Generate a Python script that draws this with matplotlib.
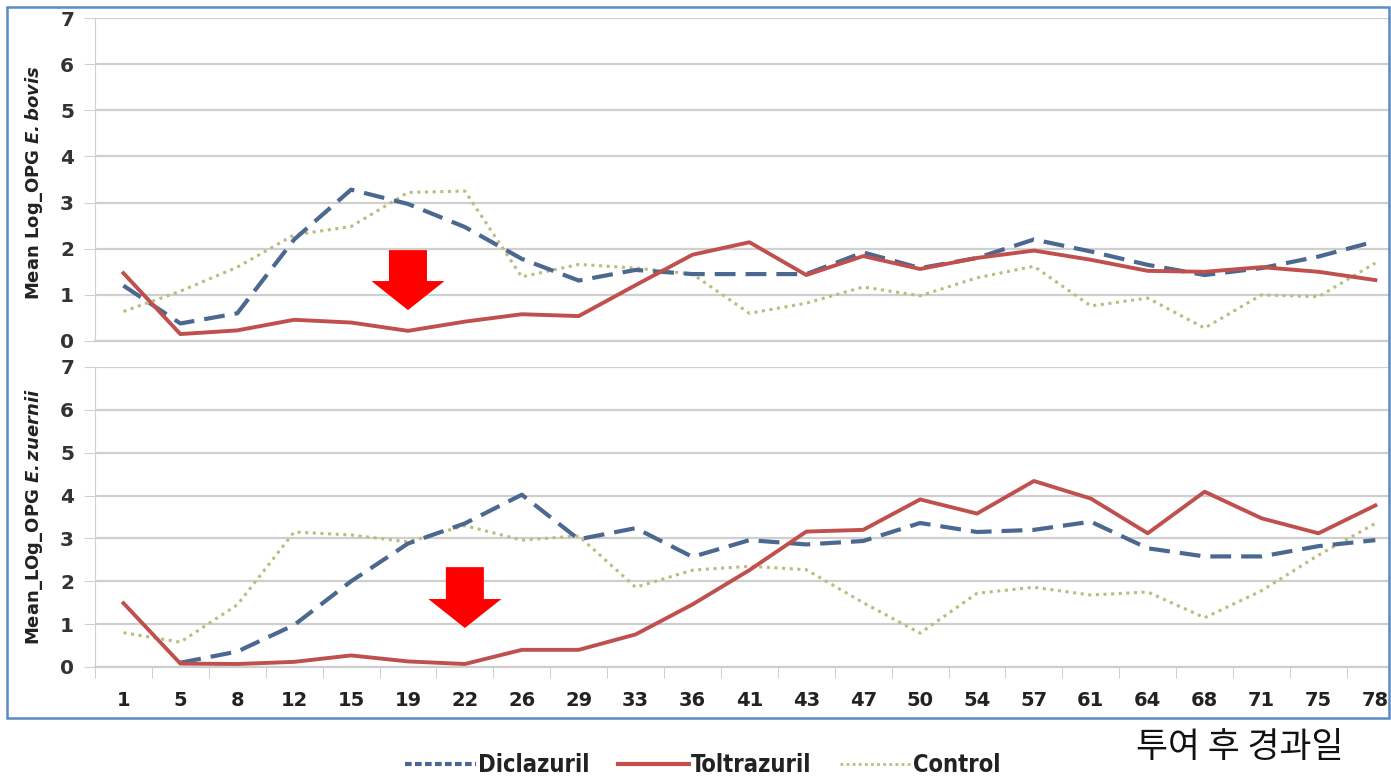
import numpy as np
import matplotlib.pyplot as plt
from matplotlib.patches import Rectangle, FancyArrow
from matplotlib.lines import Line2D
from matplotlib import font_manager

days = ['1', '5', '8', '12', '15', '19', '22', '26', '29', '33', '36', '41',
        '43', '47', '50', '54', '57', '61', '64', '68', '71', '75', '78']

# E. bovis
bovis_diclazuril = [1.2, 0.38, 0.6, 2.2, 3.28, 2.97, 2.47, 1.78, 1.31, 1.54, 1.45, 1.45,
                    1.45, 1.92, 1.58, 1.8, 2.2, 1.94, 1.65, 1.43, 1.58, 1.83, 2.16]
bovis_toltrazuril = [1.47, 0.15, 0.23, 0.46, 0.4, 0.22, 0.42, 0.58, 0.54, 1.21, 1.87, 2.14,
                     1.43, 1.84, 1.56, 1.8, 1.96, 1.76, 1.52, 1.5, 1.6, 1.5, 1.32]
bovis_control = [0.64, 1.08, 1.6, 2.3, 2.48, 3.22, 3.25, 1.39, 1.66, 1.58, 1.45, 0.6,
                 0.82, 1.17, 0.98, 1.37, 1.62, 0.76, 0.93, 0.28, 1.0, 0.96, 1.69]

# E. zuernii
zuernii_diclazuril = [None, 0.1, 0.36, 0.98, 2.0, 2.88, 3.35, 4.02, 2.98, 3.24, 2.57, 2.96,
                      2.86, 2.94, 3.36, 3.15, 3.2, 3.39, 2.77, 2.58, 2.58, 2.82, 2.96]
zuernii_toltrazuril = [1.49, 0.08, 0.07, 0.12, 0.27, 0.13, 0.07, 0.4, 0.4, 0.76, 1.46, 2.26,
                       3.16, 3.2, 3.91, 3.58, 4.34, 3.93, 3.12, 4.09, 3.47, 3.12, 3.77]
zuernii_control = [0.8, 0.58, 1.45, 3.15, 3.08, 2.92, 3.3, 2.96, 3.06, 1.86, 2.26, 2.35,
                   2.27, 1.5, 0.79, 1.72, 1.86, 1.68, 1.75, 1.15, 1.78, 2.61, 3.35]

arrow_bovis = (5, 1.97, 0.67)      # category index, top, tip
arrow_zuernii = (6, 2.33, 0.91)

blue = '#4a6890'
red = '#c0504d'
olive = '#bdbb80'

W, H = 1391, 781
fig = plt.figure(figsize=(W / 100, H / 100), dpi=100)

def box(l, t, r, b):
    return [l / W, 1 - b / H, (r - l) / W, (b - t) / H]

ax1 = fig.add_axes(box(95, 18, 1389, 341))
ax2 = fig.add_axes(box(95, 367, 1389, 667))

x = np.arange(len(days))

def draw(ax, dic, tol, con):
    dic = np.array([np.nan if v is None else v for v in dic], dtype=float)
    ax.plot(x, dic, color=blue, lw=3, ls=(0, (5, 2.4)), zorder=3)
    ax.plot(x, tol, color=red, lw=2.8, ls='-', zorder=4)
    ax.plot(x, con, color=olive, lw=2.2, ls=(0, (1, 1.5)), zorder=2)
    ax.set_ylim(0, 7)
    ax.set_xlim(-0.5, 22.24)
    ax.set_yticks(range(0, 8))
    ax.grid(axis='y', color='#cfcfcf', lw=1.6)
    ax.set_axisbelow(True)
    for s in ['top', 'right']:
        ax.spines[s].set_visible(False)
    ax.spines['left'].set_color('#d0d0d0')
    ax.spines['bottom'].set_color('#cfcfcf')
    ax.spines['bottom'].set_linewidth(1.6)
    ax.tick_params(axis='y', length=8, color='#d0d0d0', labelsize=14.5,
                   labelcolor='#333333', pad=7)
    for lab in ax.get_yticklabels():
        lab.set_fontweight('bold')

draw(ax1, bovis_diclazuril, bovis_toltrazuril, bovis_control)
draw(ax2, zuernii_diclazuril, zuernii_toltrazuril, zuernii_control)

ax1.set_xticks([])
ax2.set_xticks(x)
ax2.set_xticklabels(days, fontsize=14, fontweight='bold', color='#222222')
ax2.set_xticks(np.arange(-0.5, 22.5, 1), minor=True)
ax2.tick_params(axis='x', which='major', length=0, pad=17)
ax2.tick_params(axis='x', which='minor', length=8, color='#c8c8c8')

ax1.set_ylabel(r'Mean Log_OPG $\mathbfit{E. bovis}$', fontsize=13,
               fontweight='bold', color='#222222')
ax2.set_ylabel(r'Mean_LOg_OPG $\mathbfit{E. zuernii}$', fontsize=13,
               fontweight='bold', color='#222222')
ax1.yaxis.set_label_coords(-0.039, 0.49)
ax2.yaxis.set_label_coords(-0.039, 0.5)

for ax, (ci, top, tip), yscale in [(ax1, arrow_bovis, 46.1), (ax2, arrow_zuernii, 42.9)]:
    ax.add_patch(FancyArrow(ci, top, 0, tip - top, width=38 / 56.9,
                            head_width=73 / 56.9, head_length=29 / yscale,
                            length_includes_head=True, color='#ff0000', lw=0, zorder=6))

fig.patches.append(Rectangle((7 / W, 1 - 718 / H), 1382 / W, 711 / H,
                             transform=fig.transFigure, fill=False,
                             edgecolor='#5b8ac6', lw=1.8))

leg_font = font_manager.FontProperties(family='DejaVu Sans', weight='bold',
                                       stretch='condensed', size=17)
handles = [Line2D([], [], color=blue, lw=3, ls=(0, (1.6, 0.8))),
           Line2D([], [], color=red, lw=3, ls='-'),
           Line2D([], [], color=olive, lw=2, ls=(0, (1, 1.2)))]
fig.legend(handles, ['Diclazuril', 'Toltrazuril', 'Control'], loc='center',
           bbox_to_anchor=(703 / W, 1 - 765 / H), ncol=3, frameon=False,
           prop=leg_font, labelcolor='#222222',
           handlelength=3.0, columnspacing=1.2, handletextpad=0.1)

fig.text(1240 / W, 1 - 748 / H, '투여 후 경과일', ha='center', va='center',
         fontsize=25, family=['Noto Sans CJK KR', 'DejaVu Sans'], color='#111111')

plt.savefig('out.png', dpi=100)
